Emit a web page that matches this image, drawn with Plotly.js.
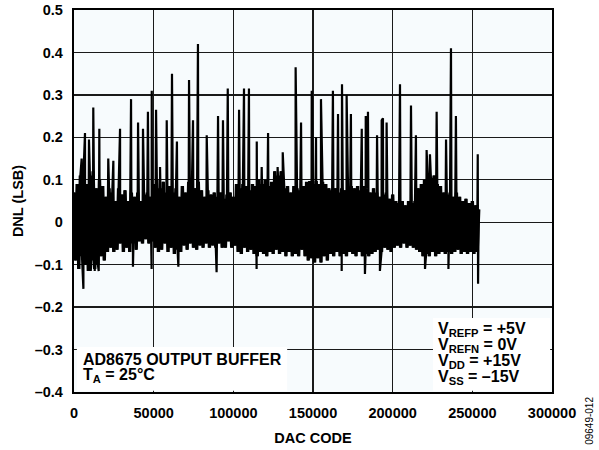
<!DOCTYPE html>
<html>
<head>
<meta charset="utf-8">
<script src="https://cdn.plot.ly/plotly-3.0.1.min.js"></script>
<style>
  html, body { margin: 0; padding: 0; background: #ffffff; }
  #chart { width: 599px; height: 450px; }
</style>
</head>
<body>
<div id="chart"></div>
<script>
// DAC code spacing of the hand-read noise band samples
const BAND_STEP = 1000;

// Hand-read DNL noise band (LSB), one value per 1000 codes, starting at code 0
const dnlBand = [
  0.07,-0.09,0.09,-0.11,0.11,-0.08,0.12,-0.10,0.09,-0.115,
  0.11,-0.09,0.12,-0.11,0.08,-0.10,0.10,-0.08,0.085,-0.09,
  0.06,-0.07,0.08,-0.06,0.07,-0.07,0.05,-0.065,0.08,-0.05,
  0.065,-0.07,0.075,-0.06,0.05,-0.07,0.07,-0.05,0.06,-0.065,
  0.07,-0.045,0.05,-0.05,0.065,-0.04,0.07,-0.05,0.06,-0.045,
  0.09,-0.06,0.10,-0.07,0.08,-0.065,0.095,-0.05,0.07,-0.07,
  0.085,-0.06,0.07,-0.075,0.08,-0.065,0.06,-0.07,0.085,-0.055,
  0.07,-0.065,0.095,-0.05,0.09,-0.06,0.08,-0.065,0.095,-0.055,
  0.075,-0.06,0.06,-0.05,0.075,-0.06,0.065,-0.055,0.07,-0.06,
  0.06,-0.05,0.07,-0.06,0.055,-0.06,0.065,-0.045,0.07,-0.06,
  0.06,-0.055,0.09,-0.07,0.08,-0.075,0.09,-0.06,0.085,-0.07,
  0.075,-0.065,0.09,-0.075,0.085,-0.08,0.10,-0.07,0.09,-0.075,
  0.10,-0.08,0.085,-0.07,0.095,-0.075,0.12,-0.065,0.11,-0.075,
  0.12,-0.07,0.08,-0.08,0.085,-0.07,0.07,-0.08,0.085,-0.075,
  0.08,-0.08,0.075,-0.065,0.085,-0.08,0.095,-0.09,0.097,-0.085,
  0.09,-0.095,0.097,-0.085,0.09,-0.095,0.095,-0.08,0.09,-0.09,
  0.08,-0.075,0.075,-0.08,0.08,-0.07,0.07,-0.08,0.08,-0.075,
  0.075,-0.08,0.08,-0.07,0.085,-0.075,0.08,-0.08,0.085,-0.07,
  0.075,-0.08,0.085,-0.075,0.08,-0.08,0.07,-0.075,0.08,-0.07,
  0.07,-0.065,0.06,-0.07,0.065,-0.06,0.07,-0.065,0.055,-0.07,
  0.065,-0.06,0.05,-0.055,0.045,-0.06,0.05,-0.05,0.04,-0.06,
  0.05,-0.055,0.045,-0.06,0.05,-0.065,0.08,-0.07,0.09,-0.08,
  0.10,-0.075,0.11,-0.08,0.105,-0.07,0.11,-0.08,0.09,-0.075,
  0.085,-0.07,0.07,-0.075,0.065,-0.07,0.07,-0.075,0.06,-0.07,
  0.07,-0.065,0.06,-0.075,0.05,-0.07,0.055,-0.075,0.045,-0.07,
  0.05,-0.075,0.04,-0.07,0.03
];

// Hand-read isolated DNL spikes: DAC code and DNL (LSB)
const spikeCodes = [
  4800, 5900, 6900, 9400, 10500, 12100, 13000, 15500, 15900, 21500,
  24700, 28900, 35800, 37000, 40200, 43300, 46400, 48700, 48800, 51500,
  54000, 58200, 61500, 64600, 65500, 72200, 74700, 77800, 83300, 89500,
  90400, 93500, 96500, 103600, 106700, 109800, 114600, 114700, 117800, 121800,
  127800, 131000, 139100, 142500, 149200, 151900, 155000, 162500, 165700, 168000,
  168200, 171100, 173800, 180600, 182600, 183100, 184500, 190200, 192000, 193100,
  193900, 196200, 204600, 211500, 214600, 220300, 221300, 223400, 227600, 233500,
  235000, 236600, 239700, 253400, 253600
];
const spikeValues = [
  0.15, -0.157, 0.21, 0.195, -0.115, 0.27, -0.115, -0.115, 0.22, 0.15,
  0.145, 0.22, 0.29, -0.105, 0.235, 0.22, 0.26, -0.11, 0.31, 0.265,
  0.13, 0.24, 0.35, 0.19, -0.105, 0.335, 0.24, 0.42, 0.205, -0.118,
  0.25, 0.24, 0.315, 0.265, 0.315, 0.315, -0.11, 0.19, 0.13, 0.21,
  0.13, 0.165, 0.365, 0.235, 0.31, 0.20, 0.29, 0.31, 0.255, -0.115,
  0.325, 0.30, 0.255, 0.22, -0.122, 0.25, 0.26, 0.205, -0.115, 0.24,
  0.245, 0.235, 0.325, 0.275, 0.205, -0.11, 0.17, 0.16, 0.26, 0.195,
  -0.11, 0.41, 0.25, 0.16, -0.145
];

// Axis tick values and labels
const xTickVals = [0, 50000, 100000, 150000, 200000, 250000, 300000];
const xTickText = ['0', '50000', '100000', '150000', '200000', '250000', '300000'];
const yTickVals = [-0.4, -0.3, -0.2, -0.1, 0, 0.1, 0.2, 0.3, 0.4, 0.5];
const yTickText = ['\u20130.4', '\u20130.3', '\u20130.2', '\u20130.1', '0', '0.1', '0.2', '0.3', '0.4', '0.5'];

// Band samples alone, and band + spikes merged into one code-ordered DNL series
const bandX = dnlBand.map((_, i) => i * BAND_STEP);
const pts = dnlBand.map((v, i) => [bandX[i], v])
  .concat(spikeCodes.map((c, i) => [c, spikeValues[i]]))
  .sort((a, b) => a[0] - b[0]);
const xs = pts.map(p => p[0]);
const ys = pts.map(p => p[1]);

const FONT = 'Liberation Sans, Arial, Helvetica, sans-serif';

const traces = [
  { // thicker underlay of the dense noise band so it reads as a solid band
    x: bandX, y: dnlBand, type: 'scatter', mode: 'lines',
    line: { color: '#000000', width: 3.4, simplify: false },
    hoverinfo: 'skip', showlegend: false
  },
  {
    x: xs, y: ys, type: 'scatter', mode: 'lines',
    line: { color: '#000000', width: 2.2, simplify: false },
    hoverinfo: 'skip', showlegend: false
  }
];

const annFont = { family: FONT, size: 16, color: '#000000', weight: 'bold' };
function ann(text, x, y) {
  return { text: text, xref: 'paper', yref: 'paper', x: x, y: y,
           xanchor: 'left', yanchor: 'middle', showarrow: false, font: annFont };
}

const layout = {
  width: 599, height: 450,
  margin: { l: 74, r: 47, t: 10, b: 58 },
  paper_bgcolor: '#ffffff',
  plot_bgcolor: '#f7fbfd',
  font: { family: FONT, color: '#000000' },
  showlegend: false,
  xaxis: {
    range: [0, 300000], tickvals: xTickVals, ticktext: xTickText,
    showgrid: true, gridcolor: '#1a1a1a', gridwidth: 1.3,
    zeroline: false, showline: true, mirror: true, linecolor: '#000000', linewidth: 2.2,
    ticks: '', ticklabelstandoff: 6,
    tickfont: { family: FONT, size: 14.5, weight: 'bold', color: '#000000' },
    title: { text: 'DAC CODE', standoff: 13, font: { family: FONT, size: 14.5, weight: 'bold', color: '#000000' } }
  },
  yaxis: {
    range: [-0.4, 0.5], tickvals: yTickVals, ticktext: yTickText,
    showgrid: true, gridcolor: '#1a1a1a', gridwidth: 1.3,
    zeroline: false, showline: true, mirror: true, linecolor: '#000000', linewidth: 2.2,
    ticks: '', ticklabelstandoff: 6,
    tickfont: { family: FONT, size: 14.5, weight: 'bold', color: '#000000' },
    title: { text: 'DNL (LSB)', standoff: 8, font: { family: FONT, size: 14.5, weight: 'bold', color: '#000000' } }
  },
  shapes: [
    { type: 'rect', xref: 'paper', yref: 'paper', x0: 0.006, x1: 0.446, y0: 0.003, y1: 0.118,
      fillcolor: '#ffffff', line: { width: 0 }, layer: 'above' },
    { type: 'rect', xref: 'paper', yref: 'paper', x0: 0.751, x1: 0.996, y0: 0.003, y1: 0.194,
      fillcolor: '#ffffff', line: { width: 0 }, layer: 'above' }
  ],
  annotations: [
    ann('AD8675 OUTPUT BUFFER', 0.014, 0.084),
    ann('T<sub>A</sub> = 25°C', 0.014, 0.043),
    ann('V<sub>REFP</sub> = +5V', 0.758, 0.163),
    ann('V<sub>REFN</sub> = 0V', 0.758, 0.121),
    ann('V<sub>DD</sub> = +15V', 0.758, 0.079),
    ann('V<sub>SS</sub> = \u201315V', 0.758, 0.038),
    { text: '09649-012', xref: 'paper', yref: 'paper', x: 1.077, y: -0.076,
      xanchor: 'center', yanchor: 'middle', textangle: -90, showarrow: false,
      font: { family: FONT, size: 10, color: '#000000' } }
  ]
};

Plotly.newPlot('chart', traces, layout, { displayModeBar: false, staticPlot: true });
</script>
</body>
</html>
